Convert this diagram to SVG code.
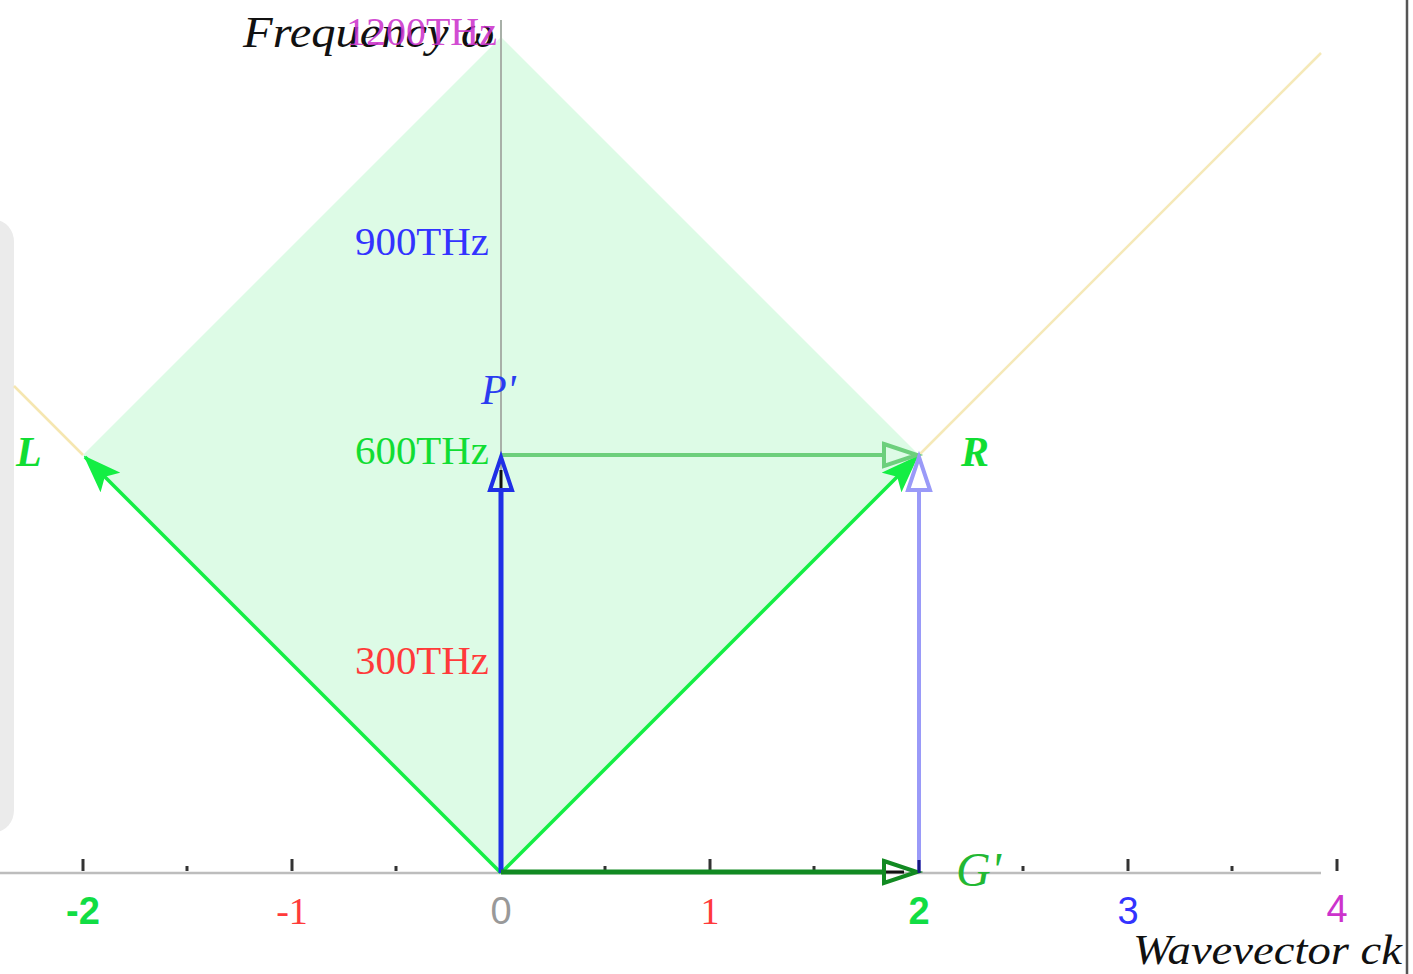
<svg xmlns="http://www.w3.org/2000/svg" width="1413" height="974" viewBox="0 0 1413 974">
<style>
.serif{font-family:"Liberation Serif","Times New Roman",serif}
.sans{font-family:"Liberation Sans",Arial,sans-serif}
.tick{stroke:#333;stroke-width:3}
.tl{font-size:38px;text-anchor:middle}
.fl{font-family:"Liberation Serif","Times New Roman",serif;font-size:40px;text-anchor:end}
</style>
<defs>
<marker id="fillG" viewBox="0 0 38 28" refX="36" refY="14" markerWidth="38" markerHeight="28" markerUnits="userSpaceOnUse" orient="auto">
<path d="M0,0 L38,14 L0,28 L8,14 Z" fill="#14ee44"/>
</marker>
</defs>
<rect width="1413" height="974" fill="#ffffff"/>
<rect x="-24" y="220" width="38" height="612" rx="22" fill="#ebebeb"/>
<g id="lightcone">
<polygon points="501,873 919,455 501,37 83,455" fill="#ddfbe6"/>
<line x1="83" y1="455" x2="14" y2="386" stroke="#f5e6b0" stroke-width="2.5"/>
<line x1="919" y1="455" x2="1321" y2="53" stroke="#f5e9b8" stroke-width="2.5"/>
</g>
<g id="axes">
<line x1="501" y1="20" x2="501" y2="873" stroke="#a8b0a8" stroke-width="2"/>
<line x1="0" y1="873" x2="1321" y2="873" stroke="#bdbdbd" stroke-width="2.5"/>
<line class="tick" x1="83" y1="859" x2="83" y2="871"/>
<line class="tick" x1="292" y1="859" x2="292" y2="871"/>
<line class="tick" x1="710" y1="859" x2="710" y2="871"/>
<line class="tick" x1="919" y1="859" x2="919" y2="871"/>
<line class="tick" x1="1128" y1="859" x2="1128" y2="871"/>
<line class="tick" x1="1337" y1="859" x2="1337" y2="871"/>
<line class="tick" x1="187" y1="866" x2="187" y2="871"/>
<line class="tick" x1="396" y1="866" x2="396" y2="871"/>
<line class="tick" x1="605" y1="866" x2="605" y2="871"/>
<line class="tick" x1="814" y1="866" x2="814" y2="871"/>
<line class="tick" x1="1023" y1="866" x2="1023" y2="871"/>
<line class="tick" x1="1232" y1="866" x2="1232" y2="871"/>
<line x1="1407" y1="0" x2="1407" y2="974" stroke="#555" stroke-width="2.5"/>
</g>
<g id="connectors" fill="none">
<line x1="501" y1="873" x2="85" y2="457" stroke="#14ee44" stroke-width="3.5" marker-end="url(#fillG)"/>
<line x1="501" y1="873" x2="917" y2="457" stroke="#14ee44" stroke-width="3.5" marker-end="url(#fillG)"/>
<line x1="501" y1="455" x2="884" y2="455" stroke="#6ccf7c" stroke-width="4"/>
<polygon points="884,444 917,455 884,466" stroke="#6ccf7c" stroke-width="4"/>
<line x1="919" y1="873" x2="919" y2="490" stroke="#9a9af8" stroke-width="4"/>
<polygon points="908,490 919,457 930,490" stroke="#9a9af8" stroke-width="4"/>
<line x1="501" y1="873" x2="501" y2="490" stroke="#1f2fe6" stroke-width="5"/>
<line x1="501" y1="490" x2="501" y2="470" stroke="#111" stroke-width="3"/>
<polygon points="490,490 501,457 512,490" stroke="#1f2fe6" stroke-width="4"/>
<line x1="501" y1="872" x2="884" y2="872" stroke="#128a22" stroke-width="5"/>
<line x1="884" y1="872" x2="904" y2="872" stroke="#111" stroke-width="3"/>
<polygon points="884,861 917,872 884,883" stroke="#128a22" stroke-width="4"/>
<line x1="919" y1="873" x2="919" y2="860" stroke="#1a1a80" stroke-width="3"/>
</g>
<g id="labels">
<text class="serif" x="243" y="47" font-size="44" font-style="italic" fill="#111" textLength="252" lengthAdjust="spacingAndGlyphs">Frequency ω</text>
<text class="fl" x="497" y="45" fill="#cc33cc" fill-opacity="0.9">1200THz</text>
<text class="fl" x="489" y="255" fill="#3333ff" textLength="134" lengthAdjust="spacingAndGlyphs">900THz</text>
<text class="fl" x="489" y="464" fill="#11dd33" textLength="134" lengthAdjust="spacingAndGlyphs">600THz</text>
<text class="fl" x="489" y="674" fill="#ff3a3a" textLength="134" lengthAdjust="spacingAndGlyphs">300THz</text>
<text class="serif" x="481" y="404" font-size="42" font-style="italic" fill="#2a3cf0">P'</text>
<text class="serif" x="16" y="466" font-size="42" font-style="italic" font-weight="bold" fill="#11dd33">L</text>
<text class="serif" x="961" y="466" font-size="42" font-style="italic" font-weight="bold" fill="#11dd33">R</text>
<text class="serif" x="956" y="886" font-size="48" font-style="italic" fill="#22b833">G'</text>
<text class="sans tl" x="83" y="924" fill="#11dd44" font-weight="bold">-2</text>
<text class="serif tl" x="292" y="924" fill="#ff3a3a" font-size="42">-1</text>
<text class="sans tl" x="501" y="924" fill="#999999">0</text>
<text class="serif tl" x="710" y="924" fill="#ff3a3a" font-size="42">1</text>
<text class="sans tl" x="919" y="924" fill="#11dd44" font-weight="bold">2</text>
<text class="sans tl" x="1128" y="924" fill="#3333ff">3</text>
<text class="sans tl" x="1337" y="922" fill="#cc33cc">4</text>
<text class="serif" x="1133" y="964" font-size="42" font-style="italic" fill="#111" textLength="269" lengthAdjust="spacingAndGlyphs">Wavevector ck</text>
</g>
</svg>
